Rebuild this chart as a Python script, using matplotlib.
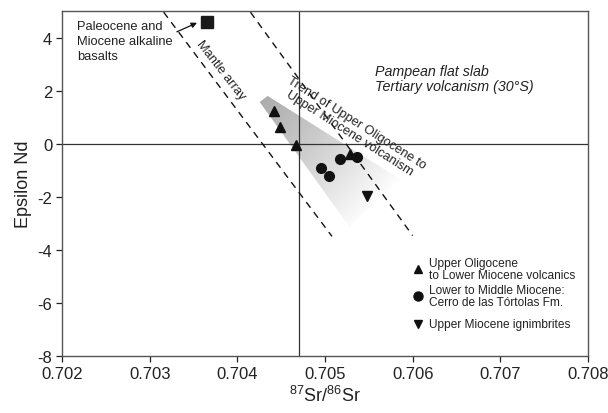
import matplotlib
matplotlib.use("Agg")
import matplotlib.pyplot as plt
import numpy as np
from matplotlib.patches import Polygon

plt.rcParams['font.family'] = ['Liberation Sans', 'DejaVu Sans']
plt.rcParams['mathtext.fontset'] = 'custom'
plt.rcParams['mathtext.rm'] = 'Liberation Sans'
plt.rcParams['axes.unicode_minus'] = False

# upper Oligocene - lower Miocene volcanics
olig_sr = [0.70442, 0.70449, 0.70467, 0.70528]
olig_nd = [1.26, 0.63, -0.06, -0.38]
# lower to middle Miocene, Cerro de las Tortolas Fm.
mio_sr = [0.70517, 0.70536, 0.70495, 0.70505]
mio_nd = [-0.57, -0.48, -0.92, -1.20]
# upper Miocene ignimbrites
ign_sr = [0.70548]
ign_nd = [-1.95]
# Paleocene / Miocene alkaline basalts
bas_sr = [0.70365]
bas_nd = [4.60]

mantle_sr = [0.70316, 0.70508]
mantle_nd = [4.97, -3.49]
trend_sr = [0.70415, 0.70600]
trend_nd = [4.97, -3.46]

field_sr = [0.704255, 0.704346, 0.70585, 0.70528]
field_nd = [1.58, 1.81, -1.32, -3.13]

bulk_sr = 0.7047
xticks = [0.702, 0.703, 0.704, 0.705, 0.706, 0.707, 0.708]
yticks = [-8, -6, -4, -2, 0, 2, 4]

fig = plt.figure(figsize=(6.08, 4.14), dpi=100)
ax = fig.add_axes([0.102, 0.138, 0.865, 0.832])

# shaded field with gradient
poly = Polygon(np.column_stack([field_sr, field_nd]), closed=True,
               facecolor='none', edgecolor='none', transform=ax.transData)
ax.add_patch(poly)
x0, x1 = min(field_sr), max(field_sr)
y0, y1 = min(field_nd), max(field_nd)
gx, gy = np.meshgrid(np.linspace(x0, x1, 200), np.linspace(y1, y0, 200))
px = (gx - x0) * 87800
py = (y1 - gy) * 26.5
d = np.array([111.0, 104.0]); d /= np.linalg.norm(d)
t = (px * d[0] + py * d[1]) / 175.0
t = np.clip(t, 0, 1)
grey = np.clip(0.67 + 0.36 * t ** 1.1, 0, 1)
img = ax.imshow(np.dstack([grey, grey, grey]), extent=[x0, x1, y0, y1],
                aspect='auto', zorder=1, interpolation='bilinear')
img.set_clip_path(poly)

ax.axvline(bulk_sr, color='#333333', lw=0.9, zorder=2)
ax.axhline(0, color='#333333', lw=0.9, zorder=2)

ax.plot(mantle_sr, mantle_nd, ls=(0, (5, 4)), color='#111111', lw=1.0, zorder=3)
ax.plot(trend_sr, trend_nd, ls=(0, (5, 4)), color='#111111', lw=1.0, zorder=3)

ax.plot(olig_sr, olig_nd, '^', color='#111111', ms=6.5, zorder=4, ls='none')
ax.plot(mio_sr, mio_nd, 'o', color='#111111', ms=7, zorder=4, ls='none')
ax.plot(ign_sr, ign_nd, 'v', color='#111111', ms=6.5, zorder=4, ls='none')
ax.plot(bas_sr, bas_nd, 's', color='#1a1a1a', ms=9, zorder=4, ls='none')

ax.text(0.70217, 4.67, 'Paleocene and\nMiocene alkaline\nbasalts', fontsize=9.3,
        va='top', ha='left', linespacing=1.3, color='#222222')
ax.annotate('', xy=(0.70354, 4.57), xytext=(0.70331, 4.23),
            arrowprops=dict(arrowstyle='-|>', color='#111111', lw=0.9,
                            mutation_scale=8, shrinkA=0, shrinkB=0))
ax.text(0.70381, 2.79, 'Mantle array', fontsize=9.3, rotation=-52,
        ha='center', va='center', rotation_mode='anchor', color='#222222')
ax.text(0.70532, 0.62, 'Trend of Upper Oligocene to\nUpper Miocene volcanism',
        fontsize=9.3, rotation=-32.5, ha='center', va='center',
        rotation_mode='anchor', multialignment='center', linespacing=1.0,
        color='#222222')
ax.text(0.705565, 2.47, 'Pampean flat slab\nTertiary volcanism (30\u00b0S)',
        fontsize=10.3, style='italic', ha='left', va='center',
        linespacing=1.15, color='#222222')

# legend
lx, tx = 0.6775, 0.697
ax.plot([lx], [0.252], '^', color='#111111', ms=6, transform=ax.transAxes)
ax.text(tx, 0.252, 'Upper Oligocene\nto Lower Miocene volcanics', fontsize=8.6,
        va='center', ha='left', transform=ax.transAxes, linespacing=1.05,
        color='#222222')
ax.plot([lx], [0.174], 'o', color='#111111', ms=6.5, transform=ax.transAxes)
ax.text(tx, 0.174, 'Lower to Middle Miocene:\nCerro de las T\u00f3rtolas Fm.',
        fontsize=8.6, va='center', ha='left', transform=ax.transAxes,
        linespacing=1.05, color='#222222')
ax.plot([lx], [0.093], 'v', color='#111111', ms=6, transform=ax.transAxes)
ax.text(tx, 0.093, 'Upper Miocene ignimbrites', fontsize=8.6, va='center',
        ha='left', transform=ax.transAxes, color='#222222')

ax.set_xlim(0.702, 0.708)
ax.set_ylim(-8, 5)
ax.set_xticks(xticks)
ax.set_xticklabels(['%.3f' % v for v in xticks])
ax.set_yticks(yticks)
ax.tick_params(direction='out', length=4, width=0.9, labelsize=12,
               colors='#222222', pad=3)
for s in ax.spines.values():
    s.set_color('#555555')
    s.set_linewidth(1.0)
ax.set_xlabel(r'$^{87}$Sr/$^{86}$Sr', fontsize=13, color='#222222', labelpad=3)
ax.set_ylabel('Epsilon Nd', fontsize=13, color='#222222', labelpad=4)

fig.savefig('out.png', dpi=100)
